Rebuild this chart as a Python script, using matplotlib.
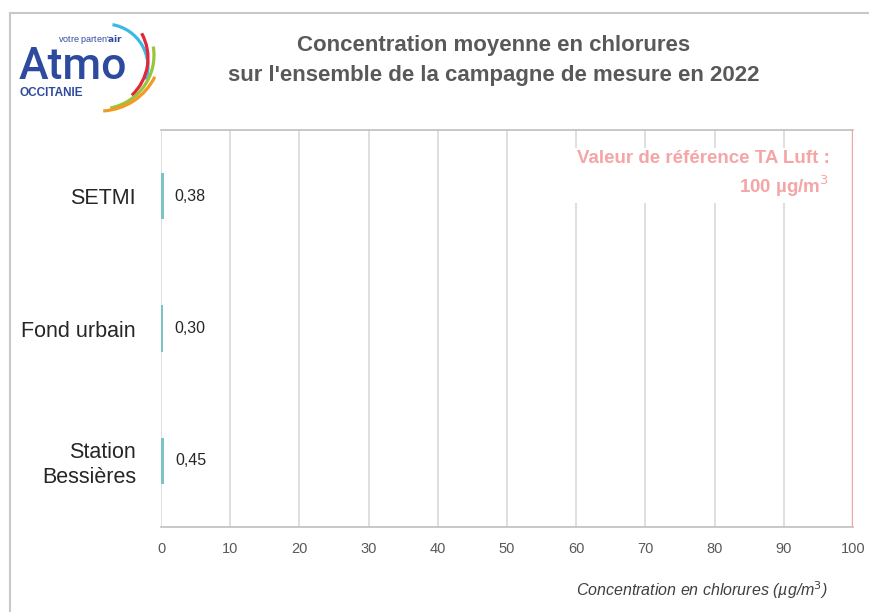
import matplotlib
matplotlib.use("Agg")
import matplotlib.pyplot as plt
from matplotlib.patches import Arc
from matplotlib.lines import Line2D

categories = ["SETMI", "Fond urbain", "Station\nBessières"]
values = [0.38, 0.30, 0.45]
value_labels = ["0,38", "0,30", "0,45"]
reference_value = 100
xticks = [0, 10, 20, 30, 40, 50, 60, 70, 80, 90, 100]

plt.rcParams['font.family'] = ['Liberation Sans', 'DejaVu Sans']

fig = plt.figure(figsize=(8.69, 6.12), dpi=100)
W, H = 869, 612

def fx(px):
    return px / W

def fy(py):
    return 1 - py / H

ax = fig.add_axes([fx(161), fy(527), fx(853) - fx(161), fy(130) - fy(527)])

ypos = list(range(len(categories)))
ax.barh(ypos, values, height=0.35, color="#7cc3c3", zorder=3)
ax.set_ylim(len(categories) - 0.5, -0.5)
ax.set_xlim(0, 100)
ax.set_xticks(xticks)
ax.set_xticklabels([str(t) for t in xticks], fontsize=10.5, color="#595959")
ax.set_yticks(ypos)
ax.set_yticklabels(categories, fontsize=15.5, color="#262626")
ax.tick_params(axis='x', length=0, pad=11)
ax.tick_params(axis='y', length=0, pad=18)
ax.grid(axis='x', color="#d9d9d9", linewidth=1.2, zorder=0)
ax.set_axisbelow(True)
for s in ['left', 'right']:
    ax.spines[s].set_visible(False)
ax.spines['bottom'].set_color("#bfbfbf")
ax.spines['bottom'].set_linewidth(1.2)
ax.spines['top'].set_color("#bfbfbf")
ax.spines['top'].set_linewidth(1.2)

for y, v, lab in zip(ypos, values, value_labels):
    ax.annotate(lab, xy=(v, y), xytext=(8, 0), textcoords='offset points',
                ha='left', va='center', fontsize=11.5, color="#262626", zorder=4)

ax.axvline(reference_value, color="#f4a6a6", linewidth=2.5, zorder=4)
ax.text(96.6, -0.165, "Valeur de référence TA Luft :\n100 µg/m$^3$",
        ha='right', va='center', fontsize=13.5, fontweight='bold', color="#f4a6a6",
        linespacing=1.3, zorder=5,
        bbox=dict(facecolor='white', edgecolor='none', pad=3))

fig.text(fx(828), fy(590), "Concentration en chlorures (µg/m$^3$)", ha='right', va='center',
         fontsize=11.5, style='italic', color="#404040")

# Title
fig.text(fx(494), fy(45), "Concentration moyenne en chlorures", ha='center', va='center',
         fontsize=16, fontweight='bold', color="#595959")
fig.text(fx(494), fy(76), "sur l'ensemble de la campagne de mesure en 2022", ha='center', va='center',
         fontsize=16, fontweight='bold', color="#595959")

# Border (top and left)
fig.add_artist(Line2D([fx(10), 1.0], [fy(13), fy(13)], color="#c8c8c8", linewidth=1.5))
fig.add_artist(Line2D([fx(10), fx(10)], [fy(13), 0.0], color="#c8c8c8", linewidth=1.5))

# Logo
fig.text(fx(19), fy(79), "Atmo", ha='left', va='baseline', fontsize=32, color="#2e4a9e",
         family=['Roboto', 'Liberation Sans'], fontweight='medium')
fig.text(fx(123), fy(40), "votre parten'$\\bf{air}$", ha='right', va='center', fontsize=6.5, color="#2e4a9e")
fig.text(fx(20), fy(93), "OCCITANIE", ha='left', va='center', fontsize=8.5, color="#2e4a9e", fontweight='bold')

lax = fig.add_axes([0, 0, 1, 1], zorder=-1)
lax.set_xlim(0, W)
lax.set_ylim(H, 0)
lax.axis('off')
arcs = [
    (105, 67, 43, -17, 80, "#3ab8e6"),
    (97, 58, 51, -47, 29, "#e3263a"),
    (100, 55, 54, -79, 9, "#9ac43a"),
    (100, 50, 61, -87, -26, "#f39a24"),
]
for cx, cy, r, t1, t2, c in arcs:
    lax.add_patch(Arc((cx, cy), 2 * r, 2 * r, theta1=-t2, theta2=-t1, color=c, linewidth=2.3))

fig.savefig("out.png", dpi=100)
